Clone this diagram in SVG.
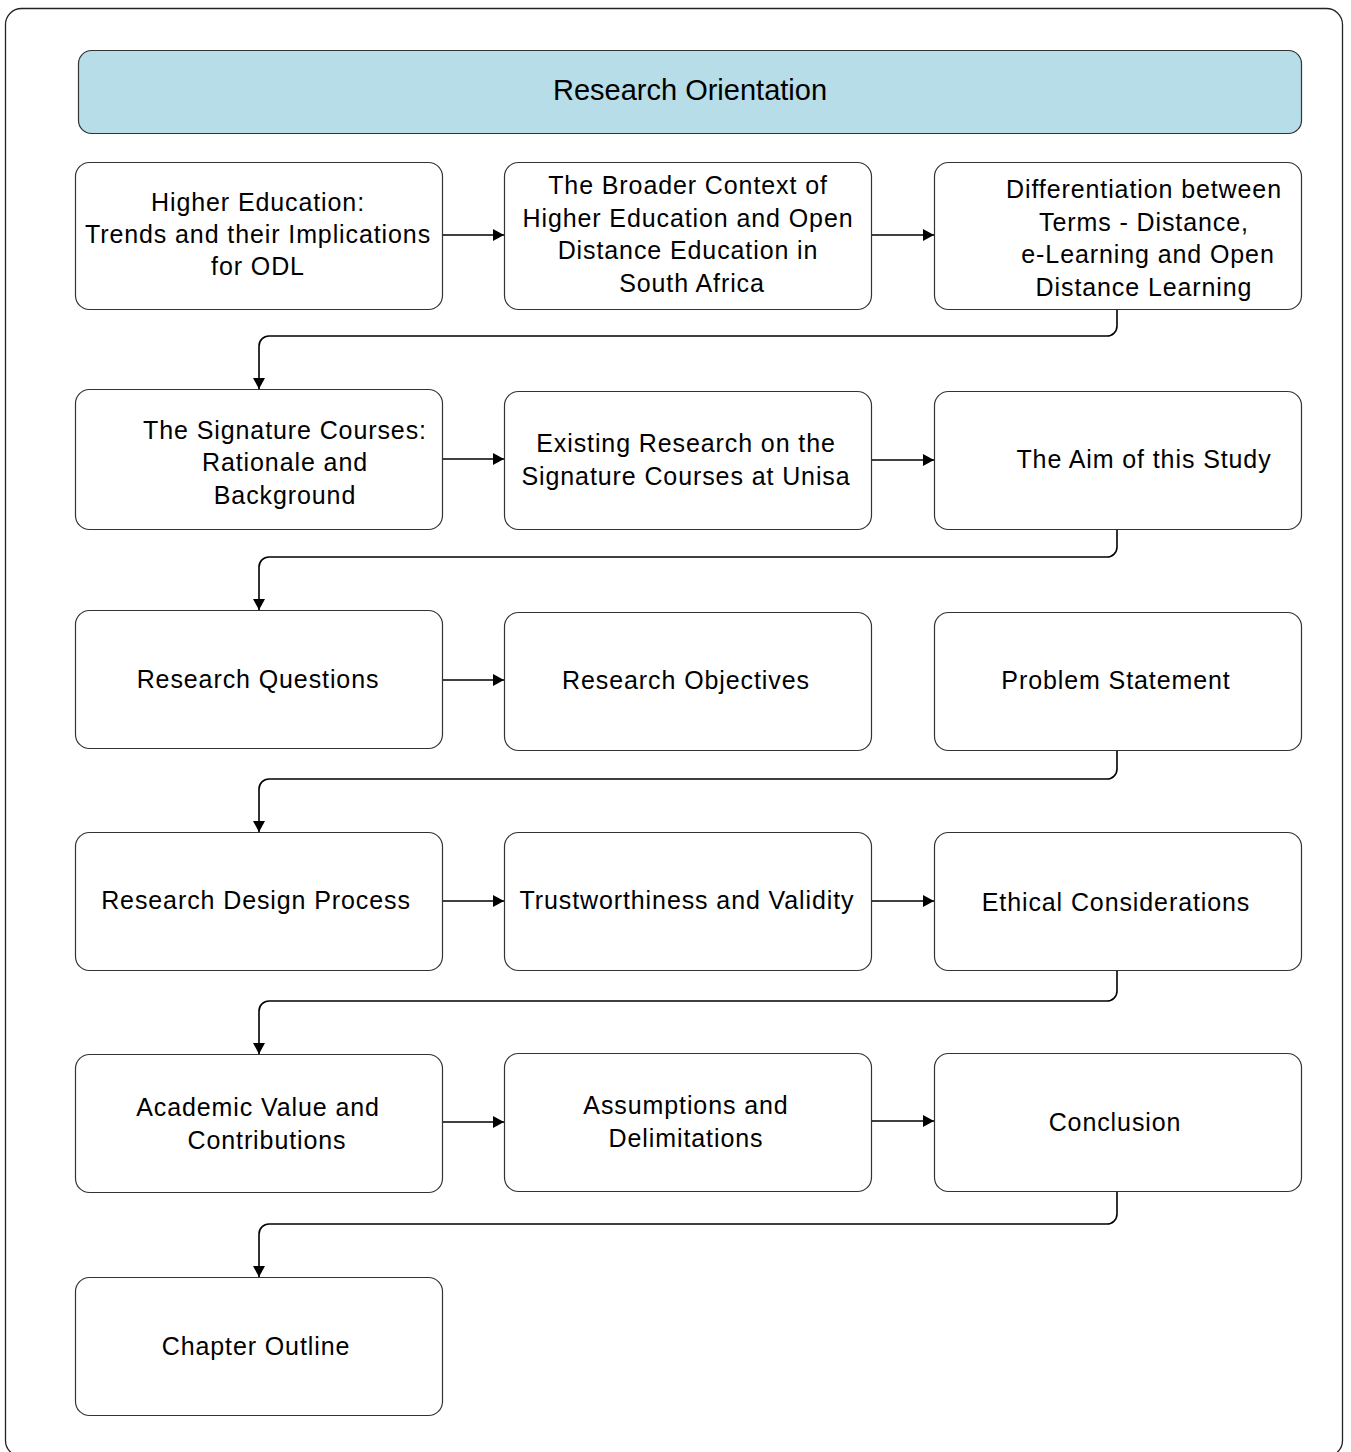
<svg xmlns="http://www.w3.org/2000/svg" width="1351" height="1452" viewBox="0 0 1351 1452">
  <style>
    .frame { fill: #ffffff; stroke: #222; stroke-width: 1.3; }
    .box { fill: #ffffff; stroke: #333; stroke-width: 1.2; }
    .head { fill: #b7dde8; stroke: #333; stroke-width: 1.2; }
    text { font-family: "Liberation Sans", Arial, sans-serif; font-size: 25px; letter-spacing: 0.9px; fill: #000; text-anchor: middle; }
    .title { font-size: 29px; letter-spacing: 0; }
    .link { fill: none; stroke: #000; stroke-width: 1.6; }
  </style>
  <defs>
    <marker id="arrow" viewBox="0 0 11 12" refX="11" refY="6" markerWidth="11" markerHeight="12" markerUnits="userSpaceOnUse" orient="auto">
      <path d="M0,0 L11,6 L0,12 Z" fill="#000"/>
    </marker>
  </defs>

  <rect class="frame" x="5.5" y="8.5" width="1337" height="1448" rx="16"/>

  <g id="header">
    <rect class="head" x="78.5" y="50.5" width="1223" height="83" rx="13"/>
    <text class="title" x="690" y="100">Research Orientation</text>
  </g>

  <!-- row 1 -->
  <g id="n-higher-education">
    <rect class="box" x="75.5" y="162.5" width="367" height="147" rx="14"/>
    <text x="258" y="211">Higher Education:</text>
    <text x="258" y="243">Trends and their Implications</text>
    <text x="258" y="275">for ODL</text>
  </g>
  <g id="n-broader-context">
    <rect class="box" x="504.5" y="162.5" width="367" height="147" rx="14"/>
    <text x="688" y="194">The Broader Context of</text>
    <text x="688" y="227">Higher Education and Open</text>
    <text x="688" y="259">Distance Education in</text>
    <text x="692" y="292">South Africa</text>
  </g>
  <g id="n-differentiation">
    <rect class="box" x="934.5" y="162.5" width="367" height="147" rx="14"/>
    <text x="1144" y="198">Differentiation between</text>
    <text x="1144" y="231">Terms - Distance,</text>
    <text x="1148" y="263">e-Learning and Open</text>
    <text x="1144" y="296">Distance Learning</text>
  </g>

  <!-- row 2 -->
  <g id="n-signature-courses">
    <rect class="box" x="75.5" y="389.5" width="367" height="140" rx="14"/>
    <text x="285" y="439">The Signature Courses:</text>
    <text x="285" y="471">Rationale and</text>
    <text x="285" y="504">Background</text>
  </g>
  <g id="n-existing-research">
    <rect class="box" x="504.5" y="391.5" width="367" height="138" rx="14"/>
    <text x="686" y="452">Existing Research on the</text>
    <text x="686" y="485">Signature Courses at Unisa</text>
  </g>
  <g id="n-aim">
    <rect class="box" x="934.5" y="391.5" width="367" height="138" rx="14"/>
    <text x="1144" y="468">The Aim of this Study</text>
  </g>

  <!-- row 3 -->
  <g id="n-research-questions">
    <rect class="box" x="75.5" y="610.5" width="367" height="138" rx="14"/>
    <text x="258" y="688">Research Questions</text>
  </g>
  <g id="n-research-objectives">
    <rect class="box" x="504.5" y="612.5" width="367" height="138" rx="14"/>
    <text x="686" y="689">Research Objectives</text>
  </g>
  <g id="n-problem-statement">
    <rect class="box" x="934.5" y="612.5" width="367" height="138" rx="14"/>
    <text x="1116" y="689">Problem Statement</text>
  </g>

  <!-- row 4 -->
  <g id="n-research-design">
    <rect class="box" x="75.5" y="832.5" width="367" height="138" rx="14"/>
    <text x="256" y="909">Research Design Process</text>
  </g>
  <g id="n-trustworthiness">
    <rect class="box" x="504.5" y="832.5" width="367" height="138" rx="14"/>
    <text x="687" y="909">Trustworthiness and Validity</text>
  </g>
  <g id="n-ethics">
    <rect class="box" x="934.5" y="832.5" width="367" height="138" rx="14"/>
    <text x="1116" y="911">Ethical Considerations</text>
  </g>

  <!-- row 5 -->
  <g id="n-academic-value">
    <rect class="box" x="75.5" y="1054.5" width="367" height="138" rx="14"/>
    <text x="258" y="1116">Academic Value and</text>
    <text x="267" y="1149">Contributions</text>
  </g>
  <g id="n-assumptions">
    <rect class="box" x="504.5" y="1053.5" width="367" height="138" rx="14"/>
    <text x="686" y="1114">Assumptions and</text>
    <text x="686" y="1147">Delimitations</text>
  </g>
  <g id="n-conclusion">
    <rect class="box" x="934.5" y="1053.5" width="367" height="138" rx="14"/>
    <text x="1115" y="1131">Conclusion</text>
  </g>

  <!-- row 6 -->
  <g id="n-chapter-outline">
    <rect class="box" x="75.5" y="1277.5" width="367" height="138" rx="14"/>
    <text x="256" y="1355">Chapter Outline</text>
  </g>

  <!-- connectors -->
  <g id="connectors">
    <path class="link" d="M443,235 H504" marker-end="url(#arrow)"/>
    <path class="link" d="M872,235 H934" marker-end="url(#arrow)"/>
    <path class="link" d="M1117,310 V326 a10,10 0 0 1 -10,10 H269 a10,10 0 0 0 -10,10 V389" marker-end="url(#arrow)"/>

    <path class="link" d="M443,459 H504" marker-end="url(#arrow)"/>
    <path class="link" d="M872,460 H934" marker-end="url(#arrow)"/>
    <path class="link" d="M1117,530 V547 a10,10 0 0 1 -10,10 H269 a10,10 0 0 0 -10,10 V610" marker-end="url(#arrow)"/>

    <path class="link" d="M443,680 H504" marker-end="url(#arrow)"/>
    <path class="link" d="M1117,751 V769 a10,10 0 0 1 -10,10 H269 a10,10 0 0 0 -10,10 V832" marker-end="url(#arrow)"/>

    <path class="link" d="M443,901 H504" marker-end="url(#arrow)"/>
    <path class="link" d="M872,901 H934" marker-end="url(#arrow)"/>
    <path class="link" d="M1117,971 V991 a10,10 0 0 1 -10,10 H269 a10,10 0 0 0 -10,10 V1054" marker-end="url(#arrow)"/>

    <path class="link" d="M443,1122 H504" marker-end="url(#arrow)"/>
    <path class="link" d="M872,1121 H934" marker-end="url(#arrow)"/>
    <path class="link" d="M1117,1192 V1214 a10,10 0 0 1 -10,10 H269 a10,10 0 0 0 -10,10 V1277" marker-end="url(#arrow)"/>
  </g>
</svg>
